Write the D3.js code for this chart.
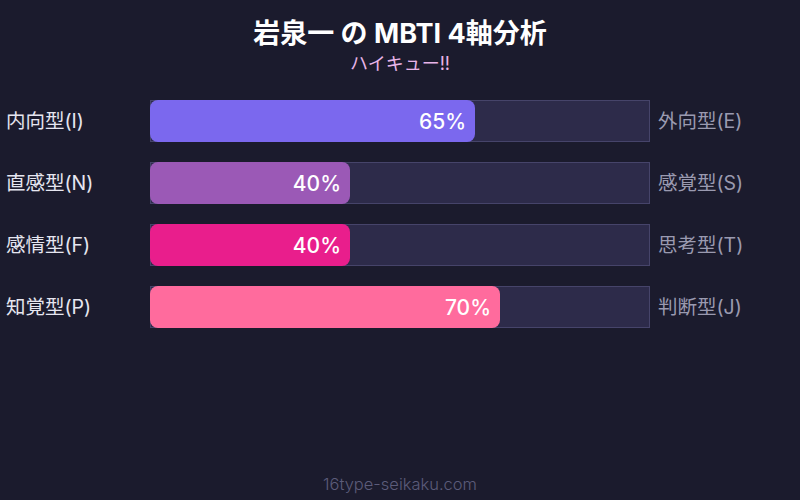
<!DOCTYPE html>
<html>
<head>
    <meta charset="utf-8">
    <script type="text/javascript" src="https://d3js.org/d3.v7.min.js"></script>
    <style>
        body { margin: 0; background: #1b1b2d; font-family: Inter, "Noto Sans CJK JP", sans-serif; }
    </style>
</head>
<body>
    <div id="chart"></div>
    <script>
        var width = 800;
        var height = 500;

        // data
        var leftLabels = ["内向型(I)", "直感型(N)", "感情型(F)", "知覚型(P)"];
        var rightLabels = ["外向型(E)", "感覚型(S)", "思考型(T)", "判断型(J)"];
        var percents = [65, 40, 40, 70];
        var barColors = ["#7b68ee", "#9b59b6", "#e91e8c", "#ff6b9d"];

        var svg = d3.select("#chart").append("svg")
            .attr("width", width)
            .attr("height", height);

        svg.append("rect").attr("width", width).attr("height", height).attr("fill", "#1b1b2d");

        svg.append("text")
            .attr("x", width / 2).attr("y", 43)
            .attr("text-anchor", "middle")
            .attr("fill", "#ffffff")
            .attr("font-size", 27).attr("font-weight", "bold")
            .text("岩泉一 の MBTI 4軸分析");

        svg.append("text")
            .attr("x", width / 2).attr("y", 70)
            .attr("text-anchor", "middle")
            .attr("fill", "#e8b4e8")
            .attr("font-size", 18)
            .text("ハイキュー!!");

        var x = d3.scaleLinear().domain([0, 100]).range([150, 650]);
        var y = d3.scaleBand().domain(d3.range(percents.length)).range([100, 328]).paddingInner(20 / 62).paddingOuter(0);

        var rows = svg.selectAll("g.row").data(percents).enter().append("g")
            .attr("class", "row")
            .attr("transform", (d, i) => "translate(0," + y(i) + ")");

        rows.append("rect")
            .attr("x", x(0) + 0.5).attr("y", 0.5)
            .attr("width", x(100) - x(0) - 1).attr("height", y.bandwidth() - 1)
            .attr("fill", "#2d2b4a")
            .attr("stroke", "#46446a").attr("stroke-width", 1);

        rows.append("rect")
            .attr("x", x(0)).attr("y", 0)
            .attr("width", d => x(d) - x(0)).attr("height", y.bandwidth())
            .attr("rx", 8).attr("ry", 8)
            .attr("fill", (d, i) => barColors[i]);

        rows.append("text")
            .attr("x", d => x(d) - 9)
            .attr("y", y.bandwidth() / 2 + 7.5)
            .attr("text-anchor", "end")
            .attr("fill", "#ffffff")
            .attr("font-size", 21).attr("font-weight", 500)
            .text(d => d + "%");

        rows.append("text")
            .attr("x", 6)
            .attr("y", y.bandwidth() / 2 + 7)
            .attr("fill", "#e6e6f0")
            .attr("font-size", 19.5)
            .text((d, i) => leftLabels[i]);

        rows.append("text")
            .attr("x", 658)
            .attr("y", y.bandwidth() / 2 + 7)
            .attr("fill", "#9a9ab0")
            .attr("font-size", 19.5)
            .text((d, i) => rightLabels[i]);

        svg.append("text")
            .attr("x", width / 2).attr("y", 490)
            .attr("text-anchor", "middle")
            .attr("fill", "#5c5c7a")
            .attr("font-size", 16.5).attr("font-weight", 300)
            .text("16type-seikaku.com");
    </script>
</body>
</html>
